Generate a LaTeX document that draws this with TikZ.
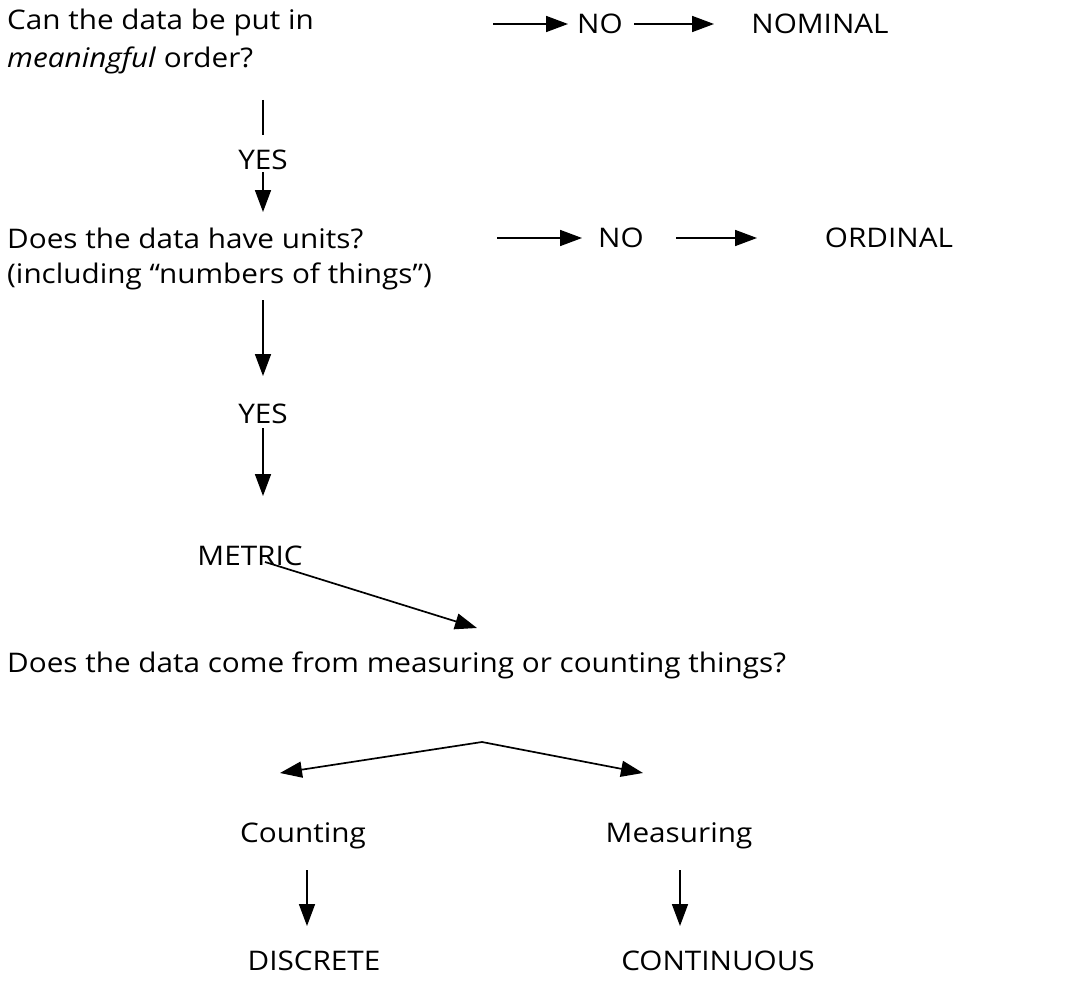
\documentclass[tikz,border=0pt]{standalone}
\usepackage{fontspec}
\setmainfont[FakeStretch=1.1]{Open Sans}
\usetikzlibrary{arrows.meta,calc}
\begin{document}
\begin{tikzpicture}[x=1pt,y=-1pt,
  txt/.style={inner sep=0pt, font=\fontsize{27}{32}\selectfont},
  arr/.style={line width=1.7pt, -{Triangle[length=22pt,width=16pt]}},
  ln/.style={line width=1.7pt}]
\useasboundingbox[fill=white] (0,0) rectangle (1088,982);
% row 1
\node[txt, anchor=west] (q1a) at (7,22) {Can the data be put in};
\node[txt, anchor=west] (q1b) at (7,60) {\textit{meaningful} order?};
\node[txt] (no1) at (600,24) {NO};
\node[txt] (nom) at (820,24) {NOMINAL};
\coordinate (a1s) at (493,24);
\draw[arr] (a1s) -- ($(no1.center)+(-32,0)$);
\draw[arr] ($(no1.center)+(34,0)$) -- ($(nom.center)+(-106,0)$);
% yes 1
\node[txt] (yes1) at (263,160) {YES};
\coordinate (v1s) at (263,100);
\draw[ln] (v1s) -- ($(yes1.center)+(0,-25)$);
% row 2
\node[txt, anchor=west] (q2a) at (7,238) {Does the data have units?};
\node[txt, anchor=west] (q2b) at (7,276) {(including “numbers of things”)};
\draw[arr] ($(yes1.center)+(0,12)$) -- ($(yes1.center)+(0,52)$);
\node[txt] (no2) at (621,238) {NO};
\node[txt] (ord) at (889,238) {ORDINAL};
\coordinate (a2s) at (497,238);
\draw[arr] (a2s) -- ($(no2.center)+(-39,0)$);
\draw[arr] ($(no2.center)+(55,0)$) -- ($(ord.center)+(-132,0)$);
% yes 2
\node[txt] (yes2) at (263,414) {YES};
\coordinate (v2s) at (263,300);
\draw[arr] (v2s) -- ($(yes2.center)+(0,-38)$);
\node[txt] (met) at (250,556) {METRIC};
\draw[arr] ($(yes2.center)+(0,14)$) -- ($(yes2.center)+(0,82)$);
% question 3
\node[txt, anchor=west] (q3) at (7,665) {Does the data come from measuring or counting things?};
\coordinate (m2) at (477,628);
\draw[arr] ($(met.center)+(15,6)$) -- (m2);
\coordinate (apex) at (482,742);
\node[txt] (cnt) at (303,836) {Counting};
\node[txt] (mea) at (679,836) {Measuring};
\coordinate (lt) at (280,773);
\coordinate (rt) at (643,773);
\draw[arr] (apex) -- (lt);
\draw[arr] (apex) -- (rt);
\node[txt] (dis) at (314,961) {DISCRETE};
\node[txt] (con) at (718,961) {CONTINUOUS};
\draw[arr] ($(cnt.center)+(4,34)$) -- ($(cnt.center)+(4,90)$);
\draw[arr] ($(mea.center)+(1,34)$) -- ($(mea.center)+(1,90)$);
\end{tikzpicture}
\end{document}
